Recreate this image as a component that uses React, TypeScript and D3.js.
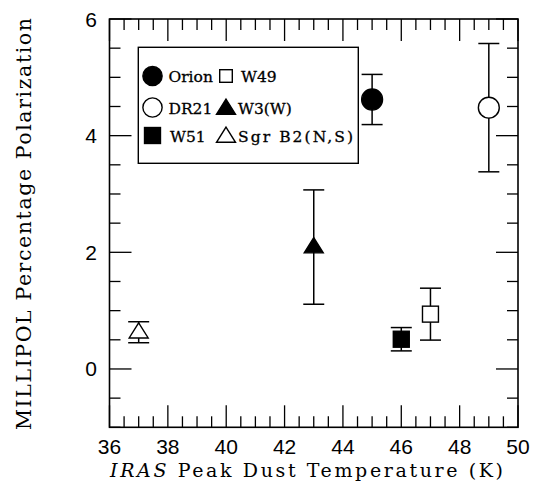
import React from "react";
import * as d3 from "d3";

const names = ["Orion", "DR21", "W51", "W49", "W3(W)", "Sgr B2(N,S)"];
const temps = [45, 49, 46, 47, 43, 37];
const pols = [4.62, 4.48, 0.51, 0.94, 2.09, 0.63];
const errs = [0.43, 1.1, 0.2, 0.445, 0.98, 0.18];
const shapes = ["circle", "circle", "square", "square", "triangle", "triangle"];
const filled = [true, false, true, false, true, false];
const legendOrder = ["Orion", "W49", "DR21", "W3(W)", "W51", "Sgr B2(N,S)"];
const xTickLabels = [36, 38, 40, 42, 44, 46, 48, 50];
const yTickLabels = [0, 2, 4, 6];

const W = 534, H = 482;
const L = 109.5, R = 518, T = 19, B = 427.3;

function Marker({ shape, fill, cx, cy, s }: { shape: string; fill: boolean; cx: number; cy: number; s: number }) {
  const f = fill ? "#000" : "#fff";
  if (shape === "circle") {
    return <circle cx={cx} cy={cy} r={s * 0.55} fill={f} stroke="#000" strokeWidth={1.4} />;
  }
  if (shape === "square") {
    const h = s * 0.42;
    return <rect x={cx - h} y={cy - h} width={2 * h} height={2 * h} fill={f} stroke="#000" strokeWidth={1.4} />;
  }
  const w = s * 0.5, ht = s * 0.8;
  const p = `M${cx},${cy - ht * 0.62}L${cx + w},${cy + ht * 0.38}L${cx - w},${cy + ht * 0.38}Z`;
  return <path d={p} fill={f} stroke="#000" strokeWidth={1.4} />;
}

export default function App() {
  const x = d3.scaleLinear().domain([36, 50]).range([L, R]);
  const y = d3.scaleLinear().domain([-1, 6]).range([B, T]);
  const xt = d3.range(36, 50.001, 0.5);
  const yt = d3.range(-1, 6.001, 0.5);
  const isMajor = (v: number) => Math.abs(v / 2 - Math.round(v / 2)) < 1e-6;
  const font = "'DejaVu Serif', serif";

  const legX = [152.5, 226];
  const legTextX = [168.5, 238];
  const legY = [76, 107.5, 135.5];

  return (
    <svg width={W} height={H} style={{ position: "absolute", left: 0, top: 0, background: "#fff" }}>
      <rect x={0} y={0} width={W} height={H} fill="#fff" />
      {/* ticks */}
      <g stroke="#000" strokeWidth={1.3}>
        {xt.map((v) => {
          const len = isMajor(v) ? 22 : 11;
          return (
            <g key={"x" + v}>
              <line x1={x(v)} x2={x(v)} y1={B} y2={B - len} />
              <line x1={x(v)} x2={x(v)} y1={T} y2={T + len} />
            </g>
          );
        })}
        {yt.map((v) => {
          const len = isMajor(v) ? 22 : 11;
          return (
            <g key={"y" + v}>
              <line x1={L} x2={L + len} y1={y(v)} y2={y(v)} />
              <line x1={R} x2={R - len} y1={y(v)} y2={y(v)} />
            </g>
          );
        })}
      </g>
      <rect x={L} y={T} width={R - L} height={B - T} fill="none" stroke="#000" strokeWidth={1.6} />
      {/* tick labels */}
      <g fontFamily="'Liberation Sans', Arial, sans-serif" fontSize={21} fill="#000">
        {xTickLabels.map((v) => (
          <text key={"xl" + v} x={x(v)} y={454} textAnchor="middle">{v}</text>
        ))}
        {yTickLabels.map((v) => (
          <text key={"yl" + v} x={97} y={y(v) + 7.5} textAnchor="end">{v}</text>
        ))}
      </g>
      {/* axis titles */}
      <text x={110} y={477} fontFamily={font} fontSize={19} textLength={393} lengthAdjust="spacing">
        <tspan fontStyle="italic">IRAS</tspan> Peak Dust Temperature (K)
      </text>
      <text
        transform={`translate(31,430) rotate(-90)`}
        fontFamily={font}
        fontSize={20.5}
        textLength={412}
        lengthAdjust="spacing"
      >
        MILLIPOL Percentage Polarization
      </text>
      {/* legend */}
      <rect x={138.3} y={47.3} width={220} height={116} fill="#fff" stroke="#000" strokeWidth={1.4} />
      {legendOrder.map((n, k) => {
        const i = names.indexOf(n);
        const col = k % 2, row = Math.floor(k / 2);
        const s = shapes[i] === "circle" ? 17.5 : shapes[i] === "square" ? (filled[i] ? 19 : 15) : 19;
        const long = n.length > 6;
        return (
          <g key={"lg" + n}>
            <Marker shape={shapes[i]} fill={filled[i]} cx={legX[col]} cy={legY[row] - (shapes[i] === "triangle" ? -1 : 0)} s={s} />
            <text
              x={legTextX[col] + (n === "W51" ? 1.5 : 0) + (n === "W49" ? 3 : 0)}
              y={legY[row] + 6}
              fontFamily={font}
              fontSize={15.5}
              stroke="#000"
              strokeWidth={0.3}
              textLength={long ? 115 : undefined}
              lengthAdjust={long ? "spacing" : undefined}
            >
              {n}
            </text>
          </g>
        );
      })}
      {/* data */}
      {names.map((n, i) => {
        const cx = x(temps[i]);
        const cy = y(pols[i]);
        const yt1 = y(pols[i] + errs[i]);
        const yb1 = y(pols[i] - errs[i]);
        const s = 19;
        return (
          <g key={"pt" + n}>
            <g stroke="#000" strokeWidth={1.5}>
              <line x1={cx} x2={cx} y1={yt1} y2={yb1} />
              <line x1={cx - 10.5} x2={cx + 10.5} y1={yt1} y2={yt1} />
              <line x1={cx - 10.5} x2={cx + 10.5} y1={yb1} y2={yb1} />
            </g>
            <Marker shape={shapes[i]} fill={filled[i]} cx={cx} cy={cy} s={s} />
          </g>
        );
      })}
    </svg>
  );
}
